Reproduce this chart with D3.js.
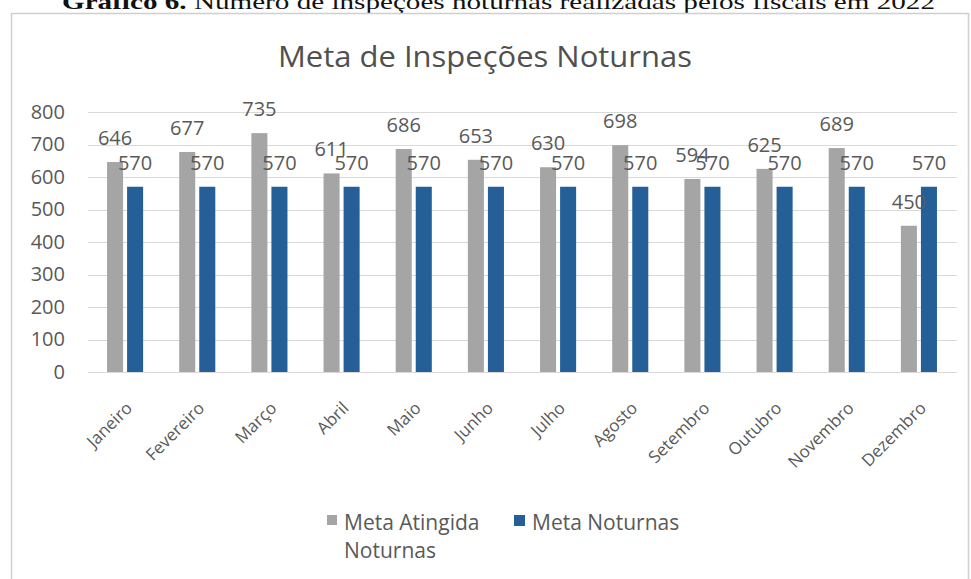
<!DOCTYPE html>
<html>
<head>
<meta charset="utf-8">
<script src="https://cdn.jsdelivr.net/npm/d3@7"></script>
<style>
  html, body { margin: 0; padding: 0; background: #fff; }
  svg { display: block; }
  text { font-family: "Open Sans", "Noto Sans", sans-serif; fill: #595959; }
</style>
</head>
<body>
<svg id="chart" width="971" height="579"></svg>
<script>
// Monthly night inspections vs. target, 2022
const months = ["Janeiro", "Fevereiro", "Março", "Abril", "Maio", "Junho",
                "Julho", "Agosto", "Setembro", "Outubro", "Novembro", "Dezembro"];
const metaAtingida = [646, 677, 735, 611, 686, 653, 630, 698, 594, 625, 689, 450];
const metaNoturnas = [570, 570, 570, 570, 570, 570, 570, 570, 570, 570, 570, 570];
const seriesNames = ["Meta Atingida Noturnas", "Meta Noturnas"];
const seriesColors = ["#a5a5a5", "#245f97"];
const yTicks = [0, 100, 200, 300, 400, 500, 600, 700, 800];

const svg = d3.select("#chart");

// Caption above the chart frame
svg.append("text")
  .attr("x", 62).attr("y", 9)
  .attr("textLength", 873).attr("lengthAdjust", "spacingAndGlyphs")
  .style("font-family", "'Liberation Serif', 'DejaVu Serif', serif")
  .style("font-size", "22px").style("fill", "#111")
  .html("<tspan font-weight='bold'>Gráfico 6.</tspan> Número de inspeções noturnas realizadas pelos fiscais em 2022");

// Chart frame
svg.append("rect")
  .attr("x", 11.5).attr("y", 13.5)
  .attr("width", 957).attr("height", 600)
  .attr("fill", "#fff").attr("stroke", "#cfcfcf").attr("stroke-width", 1.5);

// Chart title
svg.append("text")
  .attr("x", 485).attr("y", 67)
  .attr("text-anchor", "middle")
  .attr("textLength", 414).attr("lengthAdjust", "spacingAndGlyphs")
  .style("font-size", "30px").style("fill", "#505050")
  .text("Meta de Inspeções Noturnas");

// Scales
const x = d3.scaleBand().domain(months).range([89, 955]).padding(0);
const xs = d3.scaleBand().domain(seriesNames)
  .range([x.bandwidth() * 0.25, x.bandwidth() * 0.75]).paddingInner(0.2);
const y = d3.scaleLinear().domain([0, 800]).range([372, 112]);

// Gridlines
svg.append("g").selectAll("line").data(yTicks).join("line")
  .attr("x1", 88).attr("x2", 957)
  .attr("y1", d => Math.round(y(d)) + 0.5).attr("y2", d => Math.round(y(d)) + 0.5)
  .attr("stroke", "#d9d9d9").attr("stroke-width", 1);

// Y axis labels
const yAxis = svg.append("g").attr("transform", "translate(65,0)")
  .call(d3.axisLeft(y).tickValues(yTicks).tickSize(0).tickPadding(0));
yAxis.select(".domain").remove();
yAxis.selectAll("text")
  .style("font-family", "'Open Sans', sans-serif")
  .style("font-size", "20px").style("fill", "#595959");

// Bars
const rows = months.map((m, i) => ({ month: m, values: [metaAtingida[i], metaNoturnas[i]] }));
const groups = svg.append("g").selectAll("g").data(rows).join("g")
  .attr("transform", d => `translate(${x(d.month)},0)`);

groups.selectAll("rect")
  .data(d => d.values.map((v, k) => ({ v, k })))
  .join("rect")
  .attr("x", d => xs(seriesNames[d.k]))
  .attr("width", xs.bandwidth())
  .attr("y", d => y(d.v))
  .attr("height", d => y(0) - y(d.v))
  .attr("fill", d => seriesColors[d.k]);

// Data labels
[0, 1].forEach(k => {
  groups.append("text")
    .attr("x", xs(seriesNames[k]) + xs.bandwidth() / 2)
    .attr("y", d => y(d.values[k]) - 24)
    .attr("dy", "0.35em")
    .attr("text-anchor", "middle")
    .style("font-size", "20px")
    .text(d => d.values[k]);
});

// Category labels, rotated
svg.append("g").selectAll("text").data(months).join("text")
  .attr("transform", d => `translate(${x(d) + x.bandwidth() / 2 + 4},405) rotate(-45)`)
  .attr("text-anchor", "end")
  .attr("dy", "0.35em")
  .style("font-size", "17px")
  .text(d => d);

// Legend
const legend = svg.append("g");
legend.append("rect").attr("x", 327).attr("y", 515).attr("width", 10).attr("height", 10)
  .attr("fill", seriesColors[0]);
const t1 = legend.append("text").attr("x", 344).attr("y", 530).style("font-size", "21px");
t1.append("tspan").attr("x", 344).text("Meta Atingida");
t1.append("tspan").attr("x", 344).attr("dy", 28).text("Noturnas");
legend.append("rect").attr("x", 514).attr("y", 515).attr("width", 11).attr("height", 11)
  .attr("fill", seriesColors[1]);
legend.append("text").attr("x", 532).attr("y", 530).style("font-size", "21px")
  .text(seriesNames[1]);
</script>
</body>
</html>
